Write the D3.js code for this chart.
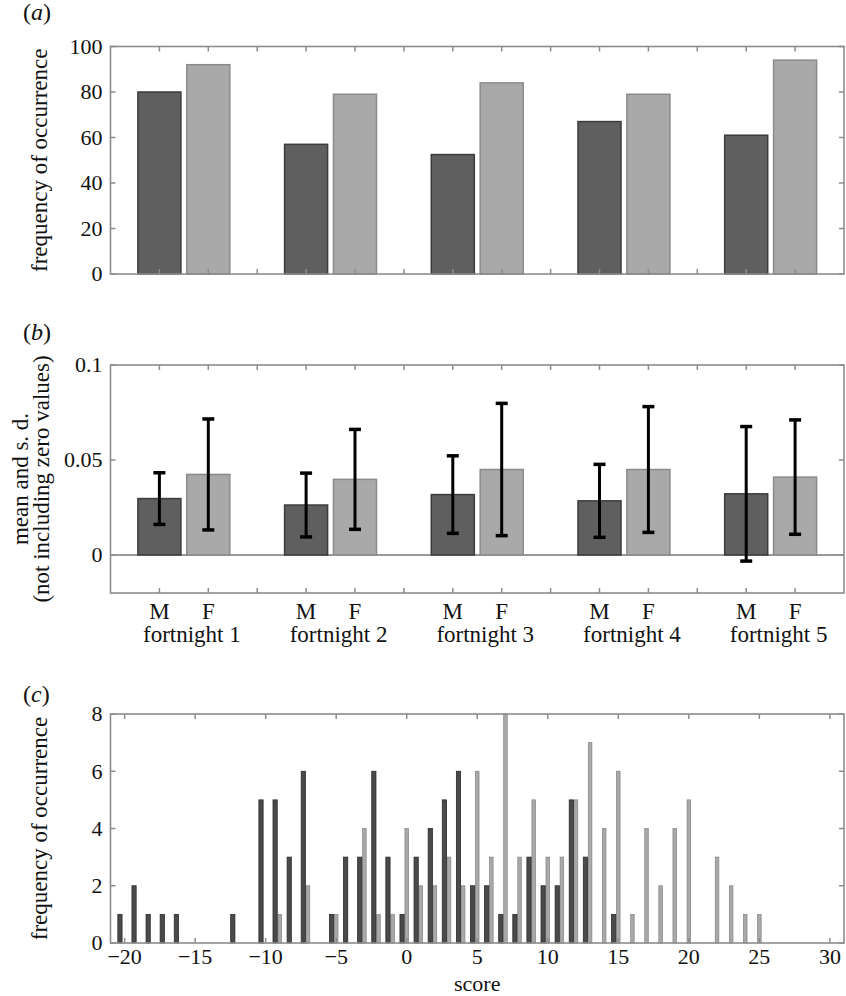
<!DOCTYPE html>
<html><head><meta charset="utf-8">
<script src="https://cdn.jsdelivr.net/npm/d3@7"></script>
<style>body{margin:0;background:#fff}svg{display:block}text{font-family:"Liberation Serif","Times New Roman",serif;fill:#111}</style>
</head><body>
<svg id="chart" width="846" height="996"></svg>
<script>
// ---- data ----
const fortnights = ["fortnight 1","fortnight 2","fortnight 3","fortnight 4","fortnight 5"];
const sexes = ["M","F"];
const freqM = [80, 57, 52.5, 67, 61];
const freqF = [92, 79, 84, 79, 94];
const meanM = [0.0297, 0.0263, 0.0318, 0.0285, 0.0322];
const sdM   = [0.0136, 0.0168, 0.0204, 0.0192, 0.0354];
const meanF = [0.0424, 0.0398, 0.0450, 0.0450, 0.0410];
const sdF   = [0.0292, 0.0263, 0.0348, 0.0331, 0.0301];
const ticksA = [0, 20, 40, 60, 80, 100];
const ticksB = [0, 0.05, 0.1];
const scoreM = [-20,-19,-18,-17,-16,-12,-10,-9,-8,-7,-5,-4,-3,-2,-1,0,1,2,3,4,5,6,7,8,9,10,11,12,13,15];
const countM = [1,2,1,1,1,1,5,5,3,6,1,3,3,6,3,1,3,4,5,6,2,2,1,1,3,2,2,5,3,1];
const scoreF = [-9,-7,-5,-3,-2,-1,0,1,2,3,4,5,6,7,8,9,10,11,12,13,14,15,16,17,18,19,20,22,23,24,25];
const countF = [1,2,1,4,1,1,4,2,2,3,2,6,3,8,3,5,3,3,5,7,4,6,1,4,2,4,5,3,2,1,1];
const ticksCx = [-20,-15,-10,-5,0,5,10,15,20,25,30];
const ticksCy = [0,2,4,6,8];

// ---- style ----
const darkFill = "#5f5f5f", darkEdge = "#3c3c3c";
const lightFill = "#a9a9a9", lightEdge = "#8a8a8a";
const axisCol = "#8c8c8c";
const svg = d3.select("#chart");
const L = 110.5, R = 844;

function frame(g, x, y, xt, yt, fmtY) {
  const [x0, x1] = x.range(), [y0, y1] = y.range();
  const tl = 5;
  xt.forEach(v => {
    g.append("line").attr("x1", x(v)).attr("x2", x(v)).attr("y1", y1).attr("y2", y1 + tl).attr("stroke", axisCol).attr("stroke-width", 1.5);
    g.append("line").attr("x1", x(v)).attr("x2", x(v)).attr("y1", y0).attr("y2", y0 - tl).attr("stroke", axisCol).attr("stroke-width", 1.5);
  });
  yt.forEach(v => {
    g.append("line").attr("x1", x0).attr("x2", x0 + tl).attr("y1", y(v)).attr("y2", y(v)).attr("stroke", axisCol).attr("stroke-width", 1.5);
    g.append("line").attr("x1", x1).attr("x2", x1 - tl).attr("y1", y(v)).attr("y2", y(v)).attr("stroke", axisCol).attr("stroke-width", 1.5);
    g.append("text").attr("x", x0 - 8).attr("y", y(v)).attr("dy", "0.34em").attr("text-anchor", "end")
      .attr("font-size", 22).text(fmtY(v));
  });
  g.append("rect").attr("x", x0).attr("y", y1).attr("width", x1 - x0).attr("height", y0 - y1)
    .attr("fill", "none").attr("stroke", axisCol).attr("stroke-width", 1.6);
}
function panelLabel(letter, x, y) {
  const t = svg.append("text").attr("x", x).attr("y", y).attr("font-size", 24);
  t.append("tspan").text("(");
  t.append("tspan").attr("font-style", "italic").text(letter);
  t.append("tspan").text(")");
}

// ---- shared category scale for (a) and (b) ----
const xCat = d3.scaleLinear().domain([0, 15]).range([L, R]);
const posM = fortnights.map((f, i) => 3 * i + 1);
const posF = fortnights.map((f, i) => 3 * i + 2);
const catTicks = d3.range(1, 15);
const bw = xCat(0.88) - xCat(0);

// ---- panel (a) ----
const yA = d3.scaleLinear().domain([0, 100]).range([274, 46.5]);
const gA = svg.append("g");
gA.selectAll("rect.m").data(freqM).join("rect").attr("x", (d, i) => xCat(posM[i]) - bw / 2).attr("y", d => yA(d))
  .attr("width", bw).attr("height", d => yA(0) - yA(d)).attr("fill", darkFill).attr("stroke", darkEdge).attr("stroke-width", 1.5);
gA.selectAll("rect.f").data(freqF).join("rect").attr("x", (d, i) => xCat(posF[i]) - bw / 2).attr("y", d => yA(d))
  .attr("width", bw).attr("height", d => yA(0) - yA(d)).attr("fill", lightFill).attr("stroke", lightEdge).attr("stroke-width", 1.5);
frame(gA, xCat, yA, catTicks, ticksA, d3.format("d"));
svg.append("text").attr("transform", `translate(47,${(46.5 + 274) / 2}) rotate(-90)`).attr("text-anchor", "middle")
  .attr("font-size", 23).text("frequency of occurrence");
panelLabel("a", 23, 20);

// ---- panel (b) ----
const yB = d3.scaleLinear().domain([-0.02, 0.1]).range([593, 365]);
const gB = svg.append("g");
gB.append("line").attr("x1", L).attr("x2", R).attr("y1", yB(0)).attr("y2", yB(0)).attr("stroke", "#9a9a9a").attr("stroke-width", 2);
gB.selectAll("rect.m").data(meanM).join("rect").attr("x", (d, i) => xCat(posM[i]) - bw / 2).attr("y", d => yB(d))
  .attr("width", bw).attr("height", d => yB(0) - yB(d)).attr("fill", darkFill).attr("stroke", darkEdge).attr("stroke-width", 1.5);
gB.selectAll("rect.f").data(meanF).join("rect").attr("x", (d, i) => xCat(posF[i]) - bw / 2).attr("y", d => yB(d))
  .attr("width", bw).attr("height", d => yB(0) - yB(d)).attr("fill", lightFill).attr("stroke", lightEdge).attr("stroke-width", 1.5);
function errBars(means, sds, pos) {
  means.forEach((m, i) => {
    const cx = xCat(pos[i]), hi = yB(m + sds[i]), lo = yB(m - sds[i]);
    gB.append("line").attr("x1", cx).attr("x2", cx).attr("y1", hi).attr("y2", lo).attr("stroke", "#000").attr("stroke-width", 3);
    [hi, lo].forEach(yy => gB.append("line").attr("x1", cx - 6).attr("x2", cx + 6).attr("y1", yy).attr("y2", yy)
      .attr("stroke", "#000").attr("stroke-width", 3.5));
  });
}
errBars(meanM, sdM, posM);
errBars(meanF, sdF, posF);
frame(gB, xCat, yB, catTicks, ticksB, v => v === 0 ? "0" : String(v));
fortnights.forEach((f, i) => {
  svg.append("text").attr("x", xCat(posM[i])).attr("y", 619).attr("text-anchor", "middle").attr("font-size", 23).text(sexes[0]);
  svg.append("text").attr("x", xCat(posF[i])).attr("y", 619).attr("text-anchor", "middle").attr("font-size", 23).text(sexes[1]);
  svg.append("text").attr("x", (xCat(posM[i]) + xCat(posF[i])) / 2 + 8).attr("y", 642).attr("text-anchor", "middle").attr("font-size", 23).text(f);
});
const tB = svg.append("text").attr("transform", `translate(0,${(365 + 593) / 2}) rotate(-90)`).attr("text-anchor", "middle").attr("font-size", 23);
tB.append("tspan").attr("x", 0).attr("y", 28).text("mean and s. d.");
tB.append("tspan").attr("x", 0).attr("y", 49).text("(not including zero values)");
panelLabel("b", 23, 340);

// ---- panel (c) ----
const xC = d3.scaleLinear().domain([-21, 31]).range([L, R]);
const yC = d3.scaleLinear().domain([0, 8]).range([943, 714]);
const gC = svg.append("g");
const dOff = -0.33, dW = 0.3, lW = 0.25;
gC.selectAll("rect.f").data(scoreF).join("rect").attr("x", (d) => xC(d - lW / 2)).attr("y", (d, i) => yC(countF[i]))
  .attr("width", xC(lW) - xC(0)).attr("height", (d, i) => yC(0) - yC(countF[i]))
  .attr("fill", lightFill).attr("stroke", lightEdge).attr("stroke-width", 0.8);
gC.selectAll("rect.m").data(scoreM).join("rect").attr("x", (d) => xC(d + dOff - dW / 2)).attr("y", (d, i) => yC(countM[i]))
  .attr("width", xC(dW) - xC(0)).attr("height", (d, i) => yC(0) - yC(countM[i]))
  .attr("fill", "#4a4a4a").attr("stroke", "#2a2a2a").attr("stroke-width", 0.8);
frame(gC, xC, yC, ticksCx, ticksCy, d3.format("d"));
ticksCx.forEach(v => svg.append("text").attr("x", xC(v)).attr("y", 964).attr("text-anchor", "middle").attr("font-size", 22)
  .text(d3.format("d")(v).replace("-", "\u2212")));
svg.append("text").attr("x", (L + R) / 2).attr("y", 991).attr("text-anchor", "middle").attr("font-size", 22).text("score");
svg.append("text").attr("transform", `translate(47,${(714 + 943) / 2}) rotate(-90)`).attr("text-anchor", "middle")
  .attr("font-size", 23).text("frequency of occurrence");
panelLabel("c", 23, 702);
</script>
</body></html>
